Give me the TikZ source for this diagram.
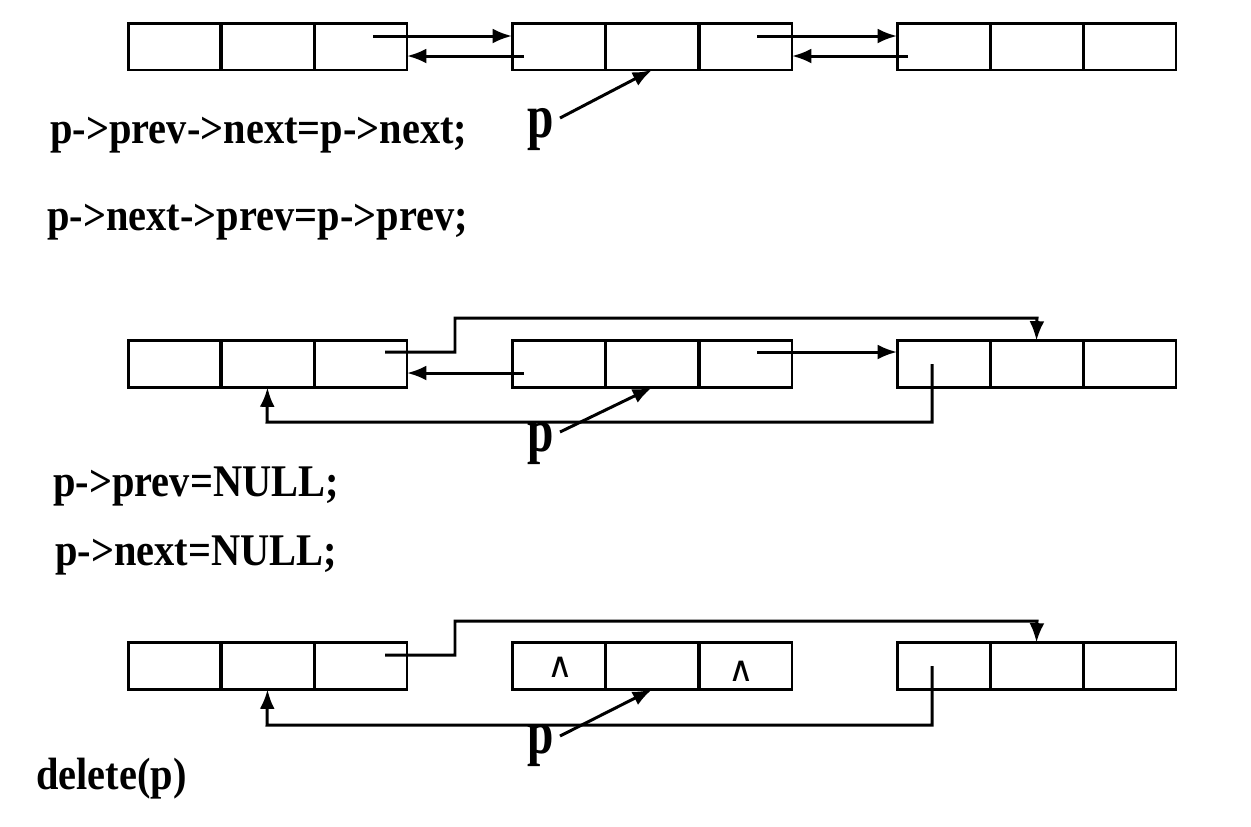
\documentclass[tikz,border=0pt]{standalone}
\usepackage{fontspec}
\setmainfont{Liberation Serif}
\newfontfamily\symfont{DejaVu Sans}
\usetikzlibrary{arrows.meta}
\newcommand{\tallt}[1]{\scalebox{1}[1.12]{#1}}
\newcommand{\tallp}[1]{\scalebox{1}[1.3]{#1}}
\begin{document}
\begin{tikzpicture}[x=0.02cm,y=-0.02cm,
  cell/.style={draw,line width=1.7pt,minimum width=1.86cm,minimum height=0.94cm,inner sep=0pt,outer sep=0pt},
  ptr/.style={line width=1.7pt,-{Latex[length=11pt,width=8.5pt]}},
  code/.style={font=\fontsize{23}{26}\selectfont\bfseries,anchor=base west,inner sep=0pt},
  plabel/.style={font=\fontsize{27}{30}\selectfont\bfseries,inner sep=0pt},
  nul/.style={font=\symfont\fontsize{20}{22}\selectfont,inner sep=0pt}]
\useasboundingbox[fill=white] (0,0) rectangle (1251,826);
\foreach \r/\y in {1/46.5, 2/364, 3/666}{
  \node[cell] (a1r\r) at (174.5,\y) {};
  \node[cell] (a2r\r) at (267.5,\y) {};
  \node[cell] (a3r\r) at (360.5,\y) {};
  \node[cell] (b1r\r) at (558.5,\y) {};
  \node[cell] (b2r\r) at (652,\y) {};
  \node[cell] (b3r\r) at (745.5,\y) {};
  \node[cell] (c1r\r) at (943.5,\y) {};
  \node[cell] (c2r\r) at (1036.5,\y) {};
  \node[cell] (c3r\r) at (1129.5,\y) {};
}
% ---------- row 1 ----------
\coordinate (s1) at (373,36);
\coordinate (s2) at (524,56);
\coordinate (s3) at (757,36);
\coordinate (s4) at (908,56);
\draw[ptr] (s1) -- (b1r1.west |- s1);
\draw[ptr] (s2) -- (a3r1.east |- s2);
\draw[ptr] (s3) -- (c1r1.west |- s3);
\draw[ptr] (s4) -- (b3r1.east |- s4);
\node[plabel] (p1) at (541,130) {\tallp{p}};
\draw[ptr] (560,118) -- (b2r1.south);
\node[code] (t1) at (50,143) {\tallt{p->prev->next=p->next;}};
\node[code] (t2) at (47,230) {\tallt{p->next->prev=p->prev;}};
% ---------- row 2 ----------
\coordinate (u1) at (385,352);
\coordinate (u2) at (524,373);
\coordinate (u3) at (757,352);
\coordinate (u4) at (932,364);
\draw[ptr] (u1) -- (455,352) -- (455,318) -- (1037,318) -- (c2r2.north);
\draw[ptr] (u2) -- (a3r2.east |- u2);
\draw[ptr] (u3) -- (c1r2.west |- u3);
\draw[ptr] (u4) -- (932,422) -- (267,422) -- (a2r2.south);
\node[plabel] (p2) at (541,444) {\tallp{p}};
\draw[ptr] (560,432) -- (b2r2.south);
\node[code] (t3) at (53,496) {\tallt{p->prev=NULL;}};
\node[code] (t4) at (55,565) {\tallt{p->next=NULL;}};
% ---------- row 3 ----------
\coordinate (v1) at (385,655);
\coordinate (v4) at (932,666);
\draw[ptr] (v1) -- (455,655) -- (455,621) -- (1037,621) -- (c2r3.north);
\draw[ptr] (v4) -- (932,725) -- (267,725) -- (a2r3.south);
\node[plabel] (p3) at (541,746) {\tallp{p}};
\draw[ptr] (560,736) -- (b2r3.south);
\node[nul] (n1) at (560,667) {∧};
\node[nul] (n2) at (741,671) {∧};
\node[code] (t5) at (36,789) {\tallt{delete(p)}};
\end{tikzpicture}
\end{document}
